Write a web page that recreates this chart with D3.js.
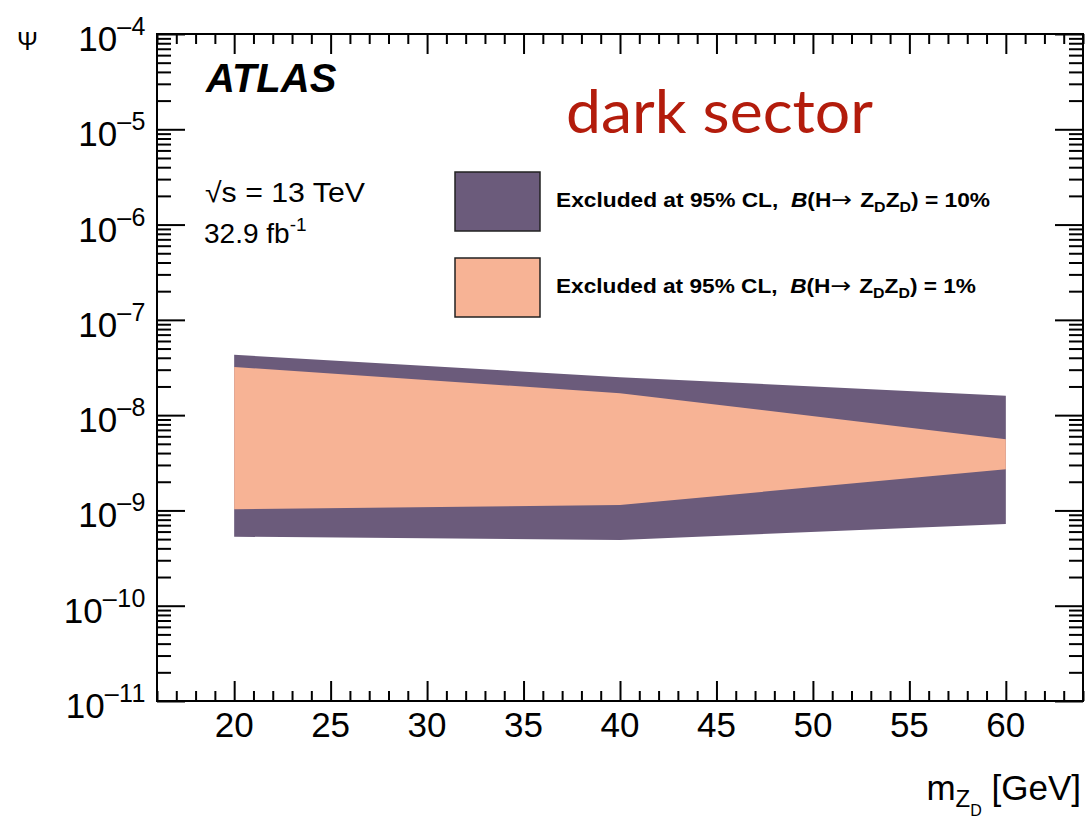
<!DOCTYPE html>
<html>
<head>
<meta charset="utf-8">
<script src="https://cdn.jsdelivr.net/npm/d3@7"></script>
<style>
  html, body { margin: 0; padding: 0; background: #fff; }
  svg { display: block; }
  text { font-family: "Liberation Sans", Arial, Helvetica, sans-serif; }
</style>
</head>
<body>
<svg id="chart" width="1085" height="816"></svg>
<script>
// Dark-photon mass points [GeV]
const massPoints = [20, 40, 60];

// Excluded epsilon range, B(H -> ZD ZD) = 10%
const excl10Upper = [4.3e-8, 2.5e-8, 1.6e-8];
const excl10Lower = [5.3e-10, 4.9e-10, 7.2e-10];

// Excluded epsilon range, B(H -> ZD ZD) = 1%
const excl1Upper = [3.2e-8, 1.7e-8, 5.6e-9];
const excl1Lower = [1.03e-9, 1.14e-9, 2.7e-9];

// Axis ticks
const xMajorTicks = [20, 25, 30, 35, 40, 45, 50, 55, 60];
const yDecadeExponents = [-11, -10, -9, -8, -7, -6, -5, -4];

const legendLabels = ["10%", "1%"];
const colors = { excl10: "#6b5b7b", excl1: "#f7b395" };

const svg = d3.select("#chart");
const m = { left: 157, top: 34, right: 1083, bottom: 701 };

const x = d3.scaleLinear().domain([16, 64]).range([m.left, m.right]);
const y = d3.scaleLog().domain([1e-11, 1e-4]).range([m.bottom, m.top]);

// Build band polygons: upper edge forward, lower edge backward
function band(upper, lower) {
  const pts = massPoints.map((mz, i) => [x(mz), y(upper[i])]);
  for (let i = massPoints.length - 1; i >= 0; i--) pts.push([x(massPoints[i]), y(lower[i])]);
  return pts;
}
const line = d3.line();

svg.append("path")
  .attr("d", line(band(excl10Upper, excl10Lower)) + "Z")
  .attr("fill", colors.excl10);
svg.append("path")
  .attr("d", line(band(excl1Upper, excl1Lower)) + "Z")
  .attr("fill", colors.excl1);

// Tick values
const xMinor = d3.range(16, 65, 1).filter(v => v % 5 !== 0);
const yMajor = yDecadeExponents.map(e => Math.pow(10, e));
const yMinor = [];
yDecadeExponents.slice(0, -1).forEach(e => {
  for (let k = 2; k <= 9; k++) yMinor.push(k * Math.pow(10, e));
});

function tickGroup(axisFn, scale, values, size, transform) {
  const g = svg.append("g").attr("transform", transform)
    .call(axisFn(scale).tickValues(values).tickSize(size).tickFormat(""));
  g.select(".domain").remove();
  g.selectAll("line").attr("stroke", "#000").attr("stroke-width", 2);
  return g;
}

// Ticks drawn inward on all four sides
tickGroup(d3.axisBottom, x, xMajorTicks, -20, `translate(0,${m.bottom})`);
tickGroup(d3.axisBottom, x, xMinor, -10, `translate(0,${m.bottom})`);
tickGroup(d3.axisTop, x, xMajorTicks, -20, `translate(0,${m.top})`);
tickGroup(d3.axisTop, x, xMinor, -10, `translate(0,${m.top})`);
tickGroup(d3.axisLeft, y, yMajor, -28, `translate(${m.left},0)`);
tickGroup(d3.axisLeft, y, yMinor, -14, `translate(${m.left},0)`);
tickGroup(d3.axisRight, y, yMajor, -28, `translate(${m.right},0)`);
tickGroup(d3.axisRight, y, yMinor, -14, `translate(${m.right},0)`);

// Frame
svg.append("rect")
  .attr("x", m.left).attr("y", m.top)
  .attr("width", m.right - m.left).attr("height", m.bottom - m.top)
  .attr("fill", "none").attr("stroke", "#000").attr("stroke-width", 2);

// X tick labels
svg.append("g").selectAll("text").data(xMajorTicks).join("text")
  .attr("x", d => x(d)).attr("y", m.bottom + 36)
  .attr("text-anchor", "middle").attr("font-size", 35)
  .text(d => d);

// Y tick labels as 10^n
const yl = svg.append("g").selectAll("text").data(yDecadeExponents).join("text")
  .attr("x", 146).attr("y", d => y(Math.pow(10, d)) + 17)
  .attr("text-anchor", "end").attr("font-size", 35);
yl.append("tspan").text("10");
yl.append("tspan").attr("font-size", 25).attr("dy", -16)
  .attr("letter-spacing", 0.5).text(d => "\u2013" + Math.abs(d));

// Axis titles
svg.append("text").attr("x", 17).attr("y", 50).attr("font-size", 25).text("\u03A8");

const xt = svg.append("text").attr("x", 1081).attr("y", 800)
  .attr("text-anchor", "end").attr("font-size", 35);
xt.append("tspan").text("m");
xt.append("tspan").attr("font-size", 24).attr("dy", 7).text("Z");
xt.append("tspan").attr("font-size", 16).attr("dy", 9).text("D");
xt.append("tspan").attr("dy", -16).text("\u00A0[GeV]");

// ATLAS label and run info
svg.append("text").attr("x", 206).attr("y", 92)
  .attr("font-size", 40).attr("font-weight", "bold").attr("font-style", "italic")
  .text("ATLAS");
svg.append("text").attr("x", 566).attr("y", 133)
  .attr("font-size", 60).attr("fill", "#b31c0c")
  .attr("textLength", 307).attr("lengthAdjust", "spacingAndGlyphs")
  .style("font-family", "Lato, 'Open Sans', sans-serif")
  .text("dark sector");

const s1 = svg.append("text").attr("x", 205).attr("y", 202).attr("font-size", 28)
  .attr("textLength", 160).attr("lengthAdjust", "spacingAndGlyphs");
s1.append("tspan").text("\u221As = 13 TeV");
const s2 = svg.append("text").attr("x", 204).attr("y", 243).attr("font-size", 28);
s2.append("tspan").text("32.9 fb");
s2.append("tspan").attr("font-size", 19).attr("dy", -12).text("-1");

// Legend
const legendColors = [colors.excl10, colors.excl1];
const legendTop = [172, 258];
legendLabels.forEach((lab, i) => {
  svg.append("rect")
    .attr("x", 455).attr("y", legendTop[i]).attr("width", 85).attr("height", 59)
    .attr("fill", legendColors[i]).attr("stroke", "#222").attr("stroke-width", 1.5);
  const t = svg.append("text").attr("x", 556).attr("y", legendTop[i] + 35)
    .attr("font-size", 20).attr("font-weight", "bold")
    .attr("textLength", lab === "10%" ? 434 : 420).attr("lengthAdjust", "spacingAndGlyphs");
  t.append("tspan").text("Excluded at 95% CL,\u00A0\u00A0");
  t.append("tspan").attr("font-style", "italic").text("B");
  t.append("tspan").text("(H");
  t.append("tspan").style("font-family", "'DejaVu Sans', sans-serif")
    .attr("font-weight", "normal").attr("font-size", 22).text("\u2192\u00A0");
  t.append("tspan").text("Z");
  t.append("tspan").attr("font-size", 14).attr("dy", 5).text("D");
  t.append("tspan").attr("dy", -5).text("Z");
  t.append("tspan").attr("font-size", 14).attr("dy", 5).text("D");
  t.append("tspan").attr("dy", -5).text(") = " + lab);
});
</script>
</body>
</html>
